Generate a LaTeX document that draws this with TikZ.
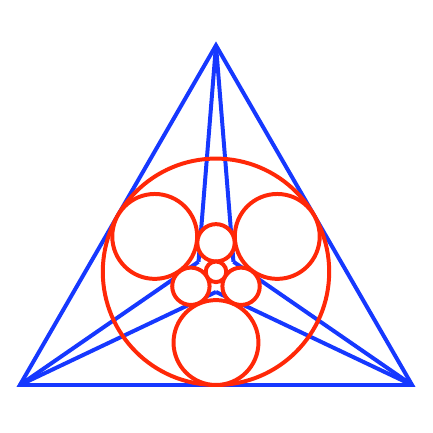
\documentclass[tikz,border=0pt]{standalone}
\definecolor{lineblue}{RGB}{22,56,255}
\definecolor{ringred}{RGB}{255,40,8}
\begin{document}
\begin{tikzpicture}[line width=2pt,
  blueline/.style={draw=lineblue},
  redring/.style={draw=ringred},
  redfill/.style={draw=ringred,fill=white}]
\useasboundingbox (-3.816,-2.848) rectangle (3.834,4.802);
\coordinate (O) at (0,0);
\coordinate (A) at (90:4);
\coordinate (B) at (210:4);
\coordinate (C) at (330:4);
\foreach \n/\a in {P/150,Q/30,S/270} \coordinate (\n) at (\a:0.356);
\draw[blueline] (A) -- (B) -- (C) -- cycle;
\foreach \v/\g in {A/P,A/Q,B/P,B/S,C/Q,C/S} \draw[blueline] (\v) -- (\g);
\draw[redring] (O) circle (2);
\foreach \a in {150,30,270} \draw[redfill] (\a:1.25) circle (0.75);
\foreach \a in {90,210,330} \draw[redfill] (\a:0.512) circle (0.33);
\draw[redfill] (O) circle (0.182);
\end{tikzpicture}
\end{document}
